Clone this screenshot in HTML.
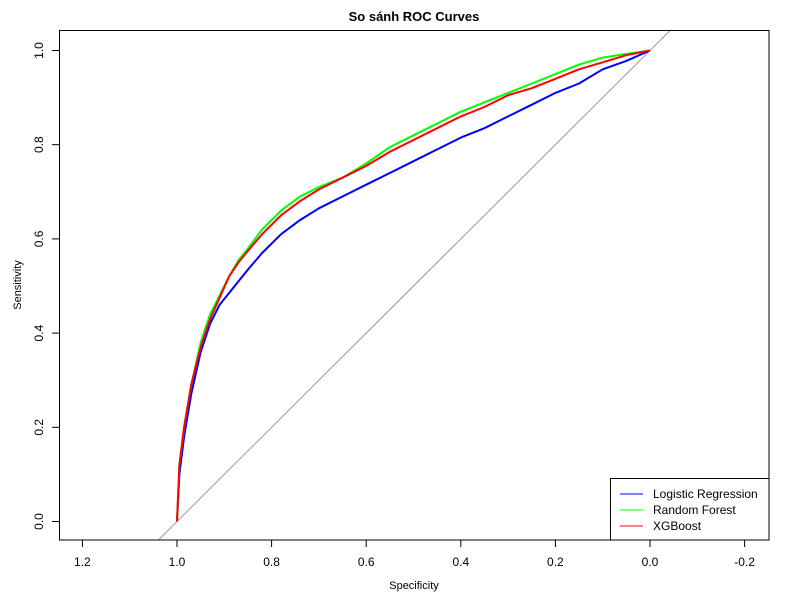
<!DOCTYPE html>
<html><head><meta charset="utf-8"><style>
body{margin:0;background:#fff}
svg{display:block;font-family:"Liberation Sans",Arial,sans-serif}
</style></head><body>
<svg id="chart" width="800" height="600" xmlns="http://www.w3.org/2000/svg">
<rect width="800" height="600" fill="#fff"/>
<text x="414" y="21" text-anchor="middle" font-size="13" font-weight="bold">So sánh ROC Curves</text>
<text x="414" y="589" text-anchor="middle" font-size="11">Specificity</text>
<text x="21" y="285" text-anchor="middle" font-size="11" transform="rotate(-90 21 285)">Sensitivity</text>
<g id="ticks"></g>
<g id="plot"></g>
<rect x="59.5" y="30.5" width="709.5" height="509.5" fill="none" stroke="#000"/>
<g>
<rect x="610.5" y="478.5" width="158.5" height="61.5" fill="#fff" stroke="#000"/>
<line x1="620" y1="494" x2="643" y2="494" stroke="#0000ff"/>
<text x="653" y="498" font-size="12">Logistic Regression</text>
<line x1="620" y1="510" x2="643" y2="510" stroke="#00ff00"/>
<text x="653" y="514" font-size="12">Random Forest</text>
<line x1="620" y1="526" x2="643" y2="526" stroke="#ff0000"/>
<text x="653" y="530" font-size="12">XGBoost</text>
</g>
</svg>
<script>
const xTicks=[1.2,1.0,0.8,0.6,0.4,0.2,0.0,-0.2];
const xTickLabels=["1.2","1.0","0.8","0.6","0.4","0.2","0.0","-0.2"];
const yTicks=[0,0.2,0.4,0.6,0.8,1.0];
const yTickLabels=["0.0","0.2","0.4","0.6","0.8","1.0"];
const specificity=[1.0,0.995,0.985,0.97,0.95,0.93,0.91,0.89,0.87,0.85,0.82,0.78,0.74,0.70,0.65,0.60,0.55,0.50,0.45,0.40,0.35,0.30,0.25,0.20,0.15,0.10,0.05,0.0];
const sensLR=[0,0.1,0.18,0.27,0.36,0.42,0.46,0.485,0.51,0.535,0.57,0.61,0.64,0.665,0.69,0.715,0.74,0.765,0.79,0.815,0.835,0.86,0.885,0.91,0.93,0.96,0.978,1];
const sensRF=[0,0.12,0.2,0.29,0.38,0.44,0.48,0.52,0.555,0.58,0.62,0.66,0.69,0.71,0.73,0.76,0.795,0.82,0.845,0.87,0.89,0.91,0.93,0.95,0.97,0.985,0.993,1];
const sensXGB=[0,0.12,0.2,0.29,0.37,0.43,0.475,0.52,0.55,0.575,0.61,0.65,0.68,0.705,0.73,0.755,0.785,0.81,0.835,0.86,0.88,0.905,0.92,0.94,0.96,0.975,0.99,1];
const NS="http://www.w3.org/2000/svg";
const xS=s=>177+(1-s)*473;
const yS=v=>521.5-471*v;
function mk(tag,attrs,parent){const e=document.createElementNS(NS,tag);for(const k in attrs)e.setAttribute(k,attrs[k]);parent.appendChild(e);return e;}
const tg=document.getElementById('ticks');
xTicks.forEach((t,i)=>{
 const l=mk('line',{x1:xS(t),x2:xS(t),y1:540,y2:547,stroke:'#000'},tg);
 
 
 const tx=mk('text',{x:xS(t),y:566,'text-anchor':'middle','font-size':12},tg);
 tx.textContent=xTickLabels[i];
 
 
});
yTicks.forEach((t,i)=>{
 const l=mk('line',{x1:52,x2:59.5,y1:yS(t),y2:yS(t),stroke:'#000'},tg);
 
 
 const tx=mk('text',{x:43,y:yS(t),'text-anchor':'middle','font-size':12,transform:`rotate(-90 43 ${yS(t)})`},tg);
 tx.textContent=yTickLabels[i];
 
 
});
const pg=document.getElementById('plot');
const cp=mk('clipPath',{id:'clip'},pg);mk('rect',{x:59.5,y:30.5,width:709.5,height:509.5},cp);
const diag=mk('line',{x1:xS(1+18.5/471),y1:540,x2:xS(1-491/471),y2:30.5,stroke:'#999','stroke-width':1,'clip-path':'url(#clip)'},pg);


function curve(sens,color,name){
 const d=specificity.map((s,i)=>(i?'L':'M')+xS(s).toFixed(1)+','+yS(sens[i]).toFixed(1)).join('');
 const p=mk('path',{d:d,fill:'none',stroke:color,'stroke-width':2,'stroke-linejoin':'round'},pg);
 
 
}
curve(sensLR,'#0000ff','roc-logistic-regression');
curve(sensRF,'#00ff00','roc-random-forest');
curve(sensXGB,'#ff0000','roc-xgboost');
</script>
</body></html>
